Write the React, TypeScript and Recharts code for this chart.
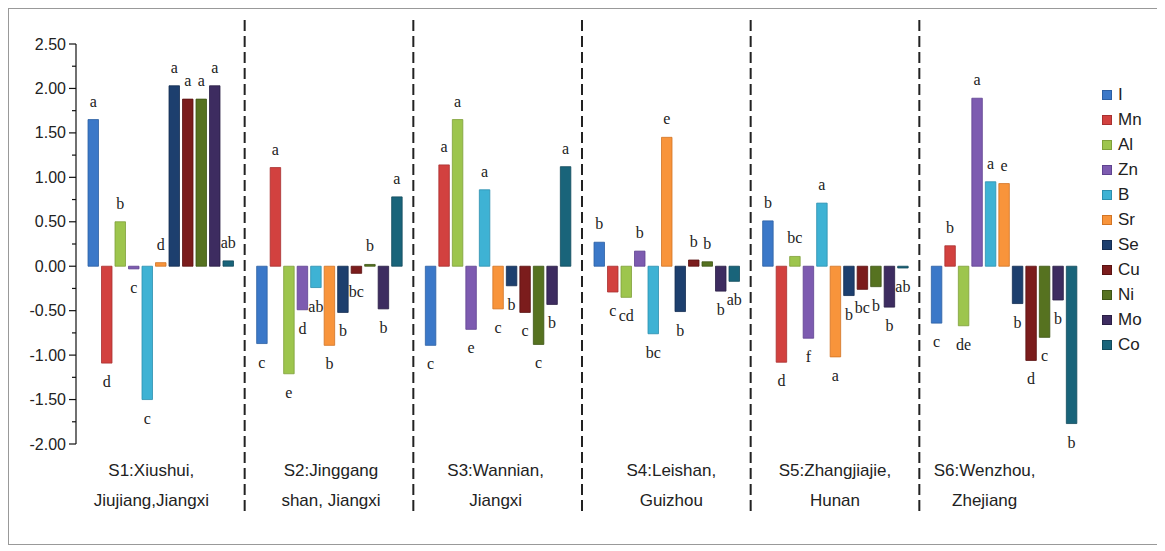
import { Bar, BarChart, LabelList, XAxis, YAxis } from "recharts";

const sites = [
  "S1:Xiushui,\nJiujiang,Jiangxi",
  "S2:Jinggang\nshan, Jiangxi",
  "S3:Wannian,\nJiangxi",
  "S4:Leishan,\nGuizhou",
  "S5:Zhangjiajie,\nHunan",
  "S6:Wenzhou,\nZhejiang",
];

const elements = ["I", "Mn", "Al", "Zn", "B", "Sr", "Se", "Cu", "Ni", "Mo", "Co"];

// values per element, S1..S6
const I = [1.65, -0.87, -0.89, 0.27, 0.51, -0.64];
const Mn = [-1.09, 1.11, 1.14, -0.29, -1.08, 0.23];
const Al = [0.5, -1.21, 1.65, -0.35, 0.11, -0.67];
const Zn = [-0.03, -0.49, -0.71, 0.17, -0.81, 1.89];
const B = [-1.5, -0.24, 0.86, -0.76, 0.71, 0.95];
const Sr = [0.04, -0.89, -0.48, 1.45, -1.02, 0.93];
const Se = [2.03, -0.52, -0.22, -0.51, -0.33, -0.42];
const Cu = [1.88, -0.08, -0.52, 0.07, -0.26, -1.06];
const Ni = [1.88, 0.02, -0.88, 0.05, -0.23, -0.8];
const Mo = [2.03, -0.48, -0.43, -0.28, -0.46, -0.38];
const Co = [0.06, 0.78, 1.12, -0.17, -0.02, -1.77];

// significance letters per element, S1..S6
const I_sig = ["a", "c", "c", "b", "b", "c"];
const Mn_sig = ["d", "a", "a", "c", "d", "b"];
const Al_sig = ["b", "e", "a", "cd", "bc", "de"];
const Zn_sig = ["c", "d", "e", "b", "f", "a"];
const B_sig = ["c", "ab", "a", "bc", "a", "a"];
const Sr_sig = ["d", "b", "c", "e", "a", "e"];
const Se_sig = ["a", "b", "b", "b", "b", "b"];
const Cu_sig = ["a", "bc", "c", "b", "bc", "d"];
const Ni_sig = ["a", "b", "c", "b", "b", "c"];
const Mo_sig = ["a", "b", "b", "b", "b", "b"];
const Co_sig = ["ab", "a", "a", "ab", "ab", "b"];

const yTicks = [-2, -1.75, -1.5, -1.25, -1, -0.75, -0.5, -0.25, 0, 0.25, 0.5, 0.75, 1, 1.25, 1.5, 1.75, 2, 2.25, 2.5];

const values: Record<string, number[]> = { I, Mn, Al, Zn, B, Sr, Se, Cu, Ni, Mo, Co };
const letters: Record<string, string[]> = {
  I: I_sig, Mn: Mn_sig, Al: Al_sig, Zn: Zn_sig, B: B_sig, Sr: Sr_sig,
  Se: Se_sig, Cu: Cu_sig, Ni: Ni_sig, Mo: Mo_sig, Co: Co_sig,
};

const colors = ["#3b78c8", "#d2413f", "#9dc54d", "#7d5bb0", "#3eb2d4", "#f8943b", "#1d3f6e", "#7b1c1c", "#567220", "#3d2c60", "#19647a"];
const strokes = ["#2c5fa3", "#a83030", "#7fa03a", "#5f4390", "#2c8fae", "#d27424", "#142d52", "#5a1212", "#3e5515", "#2a1e45", "#114a5c"];

const data = sites.map((site, i) => {
  const row: Record<string, string | number> = { site };
  elements.forEach((e) => (row[e] = values[e][i]));
  return row;
});

const W = 1150;
const H = 535;
const PLOT_LEFT = 67;
const PLOT_W = 1012;
const BAND = PLOT_W / sites.length;
const labelShift = [-9, 2, -2, 5, 0, -19];
const sans = "'Liberation Sans', Arial, sans-serif";
const serif = "'Liberation Serif', 'Times New Roman', serif";

function YTick(props: any) {
  const { x, y, payload } = props;
  const v = payload.value as number;
  const major = Math.abs(v * 2 - Math.round(v * 2)) < 1e-6;
  return (
    <g>
      <line x1={x - (major ? 7 : 4)} x2={x} y1={y} y2={y} stroke="#111" strokeWidth={1.2} />
      {major && (
        <text x={x - 10} y={y} dy={5.5} textAnchor="end" fontSize={16} fill="#222" fontFamily={sans}>
          {v.toFixed(2)}
        </text>
      )}
    </g>
  );
}

function XTick(props: any) {
  const { x, y, payload, index } = props;
  const lines = String(payload.value).split("\n");
  const shift = labelShift[index] ?? 0;
  const edge = x + BAND / 2;
  return (
    <g>
      {lines.map((t, i) => (
        <text key={i} x={x + shift} y={y + 32 + i * 30} textAnchor="middle" fontSize={17} fill="#222" fontFamily={sans}>
          {t}
        </text>
      ))}
      {index < sites.length - 1 && (
        <line x1={edge} x2={edge} y1={y - 424} y2={y + 72} stroke="#222" strokeWidth={2} strokeDasharray="11 5" />
      )}
    </g>
  );
}

function makeLetter(el: string) {
  return (props: any) => {
    const vb = props.viewBox ?? props;
    const idx = props.index;
    if (idx === undefined) return null;
    const x = Number(vb.x);
    const y = Number(vb.y);
    const w = Number(vb.width);
    const h = Number(vb.height);
    const v = values[el][idx];
    const end = v >= 0 ? Math.min(y, y + h) : Math.max(y, y + h);
    return (
      <text x={x + w / 2} y={v >= 0 ? end - 13 : end + 24} textAnchor="middle" fontSize={16} fill="#222" fontFamily={serif}>
        {letters[el][idx]}
      </text>
    );
  };
}

export default function App() {
  return (
    <div style={{ position: "relative", width: W, height: H, border: "1px solid #999", background: "#fff" }}>
      <BarChart
        width={W}
        height={H}
        data={data}
        margin={{ top: 35, right: W - PLOT_LEFT - PLOT_W, bottom: 0, left: 0 }}
        barGap={3}
        barSize={10.5}
      >
        <XAxis dataKey="site" axisLine={false} tickLine={false} tickSize={0} tickMargin={0} interval={0} height={100} tick={<XTick />} />
        <YAxis
          width={PLOT_LEFT}
          domain={[-2, 2.5]}
          ticks={yTicks}
          interval={0}
          tickLine={false}
          tickSize={0}
          tickMargin={0}
          axisLine={{ stroke: "#111", strokeWidth: 1.2 }}
          tick={<YTick />}
        />
        {elements.map((el, i) => (
          <Bar key={el} dataKey={el} fill={colors[i]} stroke={strokes[i]} strokeWidth={0.8} isAnimationActive={false}>
            <LabelList dataKey={el} content={makeLetter(el)} />
          </Bar>
        ))}
      </BarChart>
      <div style={{ position: "absolute", left: 1093, top: 73, fontFamily: sans, fontSize: 17, color: "#222" }}>
        {elements.map((el, i) => (
          <div key={el} style={{ display: "flex", alignItems: "center", height: 25.1 }}>
            <span
              style={{ display: "inline-block", width: 10, height: 10, background: colors[i], border: `1px solid ${strokes[i]}`, marginRight: 6, boxSizing: "border-box" }}
            />
            {el}
          </div>
        ))}
      </div>
    </div>
  );
}
